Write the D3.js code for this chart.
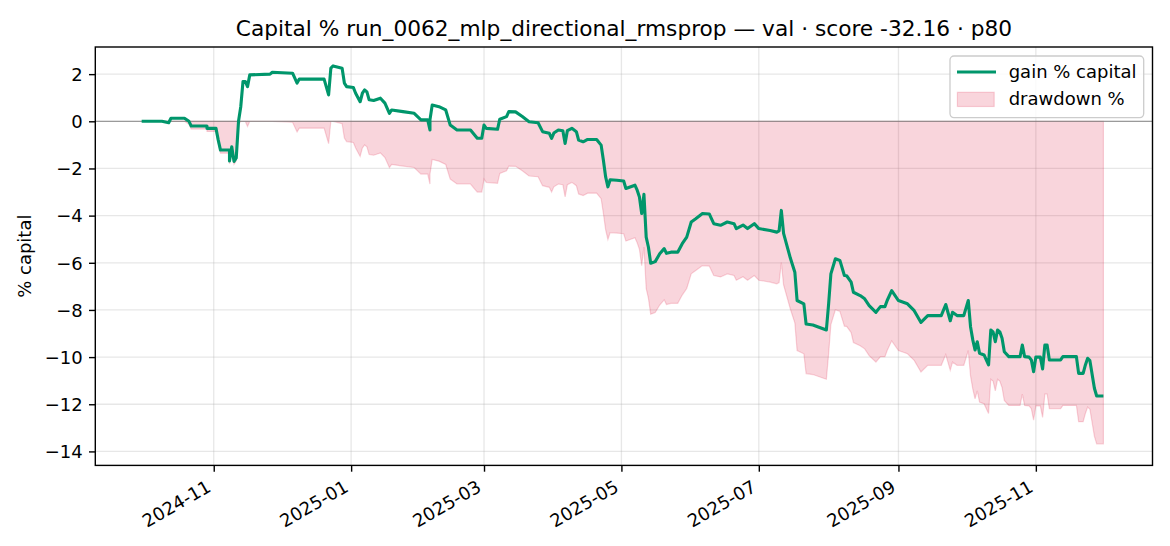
<!DOCTYPE html>
<html><head><meta charset="utf-8">
<script src="https://cdn.jsdelivr.net/npm/d3@7"></script>
<style>
body{margin:0;background:#fff}
svg{display:block}
text{font-family:"DejaVu Sans",sans-serif;fill:#000}
</style>
</head><body>
<svg id="chart" width="1170" height="546"></svg>
<script>
const dates = [
"2024-09-30","2024-10-09","2024-10-12","2024-10-13","2024-10-19","2024-10-21","2024-10-22","2024-10-29","2024-10-29",
"2024-11-02","2024-11-03","2024-11-04","2024-11-08","2024-11-08","2024-11-09","2024-11-10","2024-11-11","2024-11-12","2024-11-13","2024-11-14","2024-11-15","2024-11-16","2024-11-17","2024-11-26","2024-11-27",
"2024-12-06","2024-12-08","2024-12-09","2024-12-20","2024-12-22","2024-12-23","2024-12-24","2024-12-28","2024-12-29","2024-12-30",
"2025-01-02","2025-01-03","2025-01-05","2025-01-06","2025-01-07","2025-01-08","2025-01-09","2025-01-11","2025-01-14","2025-01-16","2025-01-18","2025-01-19","2025-01-24","2025-01-29",
"2025-02-01","2025-02-04","2025-02-05","2025-02-05","2025-02-06","2025-02-09","2025-02-12","2025-02-14","2025-02-17","2025-02-23","2025-02-26","2025-02-28",
"2025-03-01","2025-03-02","2025-03-07","2025-03-08","2025-03-11","2025-03-12","2025-03-15","2025-03-18","2025-03-21","2025-03-25","2025-03-27","2025-03-30","2025-03-31",
"2025-04-01","2025-04-03","2025-04-05","2025-04-06","2025-04-07","2025-04-09","2025-04-11","2025-04-12","2025-04-14","2025-04-16","2025-04-20","2025-04-22","2025-04-23","2025-04-24","2025-04-25","2025-04-26","2025-04-29",
"2025-05-02","2025-05-03","2025-05-07","2025-05-08","2025-05-09","2025-05-10","2025-05-11","2025-05-12","2025-05-13","2025-05-14","2025-05-16","2025-05-18","2025-05-20","2025-05-21","2025-05-23","2025-05-26","2025-05-28","2025-05-30",
"2025-06-01","2025-06-03","2025-06-06","2025-06-09","2025-06-11","2025-06-14","2025-06-17","2025-06-20","2025-06-21","2025-06-24","2025-06-26","2025-06-29",
"2025-07-01","2025-07-06","2025-07-09","2025-07-10","2025-07-11","2025-07-12","2025-07-13","2025-07-15","2025-07-17","2025-07-18","2025-07-21","2025-07-22","2025-07-25","2025-07-31",
"2025-08-01","2025-08-02","2025-08-04","2025-08-06","2025-08-08","2025-08-09","2025-08-11","2025-08-12","2025-08-15","2025-08-17","2025-08-19","2025-08-22","2025-08-24","2025-08-26","2025-08-27","2025-08-29",
"2025-09-01","2025-09-05","2025-09-08","2025-09-11","2025-09-14","2025-09-20","2025-09-22","2025-09-24","2025-09-25","2025-09-27","2025-09-30",
"2025-10-02","2025-10-03","2025-10-04","2025-10-05","2025-10-06","2025-10-07","2025-10-09","2025-10-11","2025-10-12","2025-10-13","2025-10-14","2025-10-15","2025-10-16","2025-10-17","2025-10-18","2025-10-20","2025-10-25","2025-10-26","2025-10-27","2025-10-29","2025-10-30","2025-10-31",
"2025-11-01","2025-11-03","2025-11-04","2025-11-05","2025-11-06","2025-11-07","2025-11-12","2025-11-13","2025-11-19","2025-11-20","2025-11-22","2025-11-23","2025-11-24","2025-11-25","2025-11-27","2025-11-28",
"2025-12-01"];

const gain = [
0.00,0.00,-0.06,0.13,0.13,0.00,-0.20,-0.20,-0.30,
-0.30,-0.80,-1.22,-1.22,-1.68,-1.08,-1.70,-1.55,0.00,0.62,1.69,1.69,1.47,1.97,2.00,2.08,
2.04,1.62,1.79,1.79,1.12,2.26,2.35,2.25,1.62,1.47,
1.43,1.19,0.83,1.19,1.33,1.25,0.91,0.88,0.98,0.77,0.34,0.48,0.41,0.34,
0.06,0.06,-0.37,0.06,0.69,0.62,0.48,-0.16,-0.37,-0.37,-0.72,-0.72,
-0.16,-0.30,-0.34,0.09,0.20,0.41,0.40,0.20,-0.02,-0.06,-0.44,-0.51,-0.72,
-0.50,-0.37,-0.40,-0.94,-0.40,-0.30,-0.44,-0.80,-0.87,-0.77,-0.77,-1.01,-1.65,-2.36,-2.78,-2.48,-2.50,
-2.53,-2.85,-2.71,-2.92,-3.21,-3.91,-3.10,-4.91,-5.34,-6.02,-5.95,-5.62,-5.40,-5.60,-5.55,-5.55,-5.19,-4.91,
-4.27,-4.13,-3.91,-3.93,-4.34,-4.41,-4.27,-4.34,-4.55,-4.40,-4.55,-4.34,
-4.55,-4.63,-4.70,-4.65,-3.78,-4.75,-5.10,-5.80,-6.40,-7.60,-7.74,-8.60,-8.64,-8.85,
-7.74,-6.47,-5.83,-5.90,-6.54,-6.55,-6.82,-7.25,-7.39,-7.53,-7.82,-8.10,-7.86,-7.86,-7.60,-7.18,
-7.60,-7.74,-8.03,-8.53,-8.24,-8.24,-7.77,-8.46,-8.10,-8.24,-8.24,
-7.60,-8.71,-9.27,-9.70,-9.35,-9.84,-9.91,-10.33,-8.85,-8.93,-9.35,-8.85,-8.93,-9.20,-9.77,-9.98,-9.98,-9.49,-9.98,-10.00,-10.12,-10.62,
-10.00,-10.00,-10.50,-9.49,-9.49,-10.12,-10.12,-9.98,-9.98,-10.69,-10.69,-10.33,-10.05,-10.15,-11.32,-11.65,
-11.65];

const drawdown = [
0.00,0.00,-0.06,0.00,0.00,-0.13,-0.33,-0.33,-0.43,
-0.43,-0.93,-1.35,-1.35,-1.81,-1.21,-1.83,-1.68,-0.13,0.00,0.00,0.00,-0.22,0.00,0.00,0.00,
-0.04,-0.45,-0.29,-0.29,-0.95,0.00,0.00,-0.10,-0.71,-0.86,
-0.90,-1.13,-1.49,-1.13,-1.00,-1.08,-1.41,-1.44,-1.34,-1.54,-1.96,-1.83,-1.90,-1.96,
-2.24,-2.24,-2.66,-2.24,-1.62,-1.69,-1.83,-2.45,-2.66,-2.66,-3.00,-3.00,
-2.45,-2.59,-2.63,-2.21,-2.10,-1.90,-1.91,-2.10,-2.32,-2.35,-2.73,-2.80,-3.00,
-2.78,-2.66,-2.69,-3.21,-2.69,-2.59,-2.73,-3.08,-3.15,-3.05,-3.05,-3.28,-3.91,-4.60,-5.01,-4.72,-4.74,
-4.77,-5.08,-4.94,-5.15,-5.43,-6.12,-5.33,-7.09,-7.51,-8.18,-8.11,-7.79,-7.57,-7.77,-7.72,-7.72,-7.37,-7.09,
-6.47,-6.33,-6.12,-6.14,-6.54,-6.60,-6.47,-6.54,-6.74,-6.59,-6.74,-6.54,
-6.74,-6.82,-6.89,-6.84,-5.99,-6.94,-7.28,-7.96,-8.55,-9.72,-9.86,-10.70,-10.74,-10.94,
-9.86,-8.62,-7.99,-8.06,-8.69,-8.70,-8.96,-9.38,-9.52,-9.65,-9.94,-10.21,-9.98,-9.98,-9.72,-9.31,
-9.72,-9.86,-10.14,-10.63,-10.35,-10.35,-9.89,-10.56,-10.21,-10.35,-10.35,
-9.72,-10.80,-11.35,-11.77,-11.43,-11.91,-11.98,-12.39,-10.94,-11.02,-11.43,-10.94,-11.02,-11.29,-11.84,-12.05,-12.05,-11.57,-12.05,-12.07,-12.19,-12.67,
-12.07,-12.07,-12.56,-11.57,-11.57,-12.19,-12.19,-12.05,-12.05,-12.74,-12.74,-12.39,-12.12,-12.21,-13.36,-13.68,
-13.68];

const yTicks = [2,0,-2,-4,-6,-8,-10,-12,-14];
const xTickLabels = ["2024-11","2025-01","2025-03","2025-05","2025-07","2025-09","2025-11"];
const titleText = "Capital % run_0062_mlp_directional_rmsprop — val · score -32.16 · p80";
const yLabel = "% capital";
const legendLabels = ["gain % capital","drawdown %"];

const parseDay = d3.timeParse("%Y-%m-%d");
const parseMonth = d3.timeParse("%Y-%m");
const rows = dates.map((d,i)=>({t:parseDay(d), g:gain[i], dd:drawdown[i]}));

const L=95.3, R=1152.5, T=47, B=465.4;
const x = d3.scaleTime()
  .domain([new Date(2024,8,9,10), new Date(2025,11,22,19)])
  .range([L,R]);
const y = d3.scaleLinear().domain([-14.593, 3.151]).range([B,T]);

const svg = d3.select("#chart");
const GREEN = "#00966b";
const PINK = "crimson";

// grid
const grid = svg.append("g");
grid.selectAll("line.gx").data(xTickLabels.map(parseMonth)).join("line")
  .attr("x1",d=>x(d)).attr("x2",d=>x(d)).attr("y1",T).attr("y2",B)
  .attr("stroke","#b0b0b0").attr("stroke-opacity",0.3).attr("stroke-width",1.3);
grid.selectAll("line.gy").data(yTicks).join("line")
  .attr("x1",L).attr("x2",R).attr("y1",d=>y(d)).attr("y2",d=>y(d))
  .attr("stroke","#b0b0b0").attr("stroke-opacity",0.3).attr("stroke-width",1.3);

// drawdown fill
const area = d3.area().x(d=>x(d.t)).y0(y(0)).y1(d=>y(d.dd));
svg.append("path").datum(rows).attr("d",area)
  .attr("fill",PINK).attr("fill-opacity",0.18)
  .attr("stroke",PINK).attr("stroke-opacity",0.18).attr("stroke-width",1.2);

// zero line
svg.append("line").attr("x1",L).attr("x2",R).attr("y1",y(0)).attr("y2",y(0))
  .attr("stroke","#808080").attr("stroke-opacity",0.75).attr("stroke-width",1.3);

// gain line
const line = d3.line().x(d=>x(d.t)).y(d=>y(d.g));
svg.append("path").datum(rows).attr("d",line)
  .attr("fill","none").attr("stroke",GREEN).attr("stroke-width",3.1)
  .attr("stroke-linejoin","round");

// axes
const yAxis = svg.append("g").attr("transform",`translate(${L},0)`)
  .call(d3.axisLeft(y).tickValues(yTicks).tickSize(6.3).tickPadding(6.3)
    .tickFormat(d=>d<0?"\u2212"+Math.abs(d):String(d)));
yAxis.select(".domain").remove();
yAxis.selectAll("line").attr("stroke","#000").attr("stroke-width",1.4);
yAxis.selectAll("text").attr("font-size",18).attr("font-family","DejaVu Sans").attr("dy","0.35em");

const xAxis = svg.append("g").attr("transform",`translate(0,${B})`)
  .call(d3.axisBottom(x).tickValues(xTickLabels.map(parseMonth)).tickSize(6.3)
    .tickFormat(d3.timeFormat("%Y-%m")));
xAxis.select(".domain").remove();
xAxis.selectAll("line").attr("stroke","#000").attr("stroke-width",1.4);
xAxis.selectAll("text").attr("font-size",18).attr("font-family","DejaVu Sans")
  .attr("y",0).attr("dy",0).attr("text-anchor","end")
  .attr("transform","translate(-2,25) rotate(-30)");

// spines
svg.append("rect").attr("x",L).attr("y",T).attr("width",R-L).attr("height",B-T)
  .attr("fill","none").attr("stroke","#000").attr("stroke-width",1.4);

// title
svg.append("text").attr("x",(L+R)/2).attr("y",36).attr("text-anchor","middle")
  .attr("font-size",21.7).text(titleText);

// y label
svg.append("text").attr("transform",`translate(31,${(T+B)/2}) rotate(-90)`)
  .attr("text-anchor","middle").attr("font-size",18).text(yLabel);

// legend
const lg = svg.append("g");
lg.append("rect").attr("x",950).attr("y",56).attr("width",193.7).attr("height",61.6)
  .attr("rx",4).attr("fill","#fff").attr("fill-opacity",0.8)
  .attr("stroke","#cccccc").attr("stroke-width",1.3);
lg.append("line").attr("x1",957).attr("x2",996).attr("y1",72).attr("y2",72)
  .attr("stroke",GREEN).attr("stroke-width",3.1);
lg.append("rect").attr("x",957.4).attr("y",92.3).attr("width",36.8).attr("height",14.2)
  .attr("fill",PINK).attr("fill-opacity",0.18).attr("stroke",PINK).attr("stroke-opacity",0.18).attr("stroke-width",1.2);
lg.selectAll("text.lt").data(legendLabels).join("text")
  .attr("x",1008.7).attr("y",(d,i)=>[78,105][i]).attr("font-size",18).text(d=>d);
</script>
</body></html>
